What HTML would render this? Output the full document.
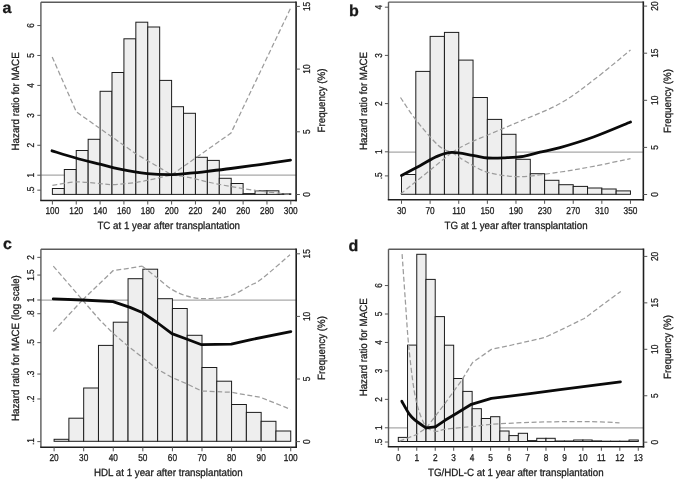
<!DOCTYPE html>
<html><head><meta charset="utf-8"><style>
html,body{margin:0;padding:0;background:#fff;}
body{width:675px;height:479px;overflow:hidden;}
svg{display:block;font-family:"Liberation Sans", sans-serif;text-rendering:geometricPrecision;will-change:transform;}
text{fill:#1a1a1a;stroke:#1a1a1a;stroke-width:0.28px;}
</style></head><body>
<svg width="675" height="479" viewBox="0 0 675 479">
<rect width="675" height="479" fill="#fff"/>
<line x1="40.9" y1="175.1" x2="296.1" y2="175.1" stroke="#a8a8a8" stroke-width="1.1"/>
<rect x="52.40" y="188.50" width="11.92" height="5.90" fill="#eeeeee" stroke="#1c1c1c" stroke-width="1"/>
<rect x="64.32" y="169.50" width="11.92" height="24.90" fill="#eeeeee" stroke="#1c1c1c" stroke-width="1"/>
<rect x="76.24" y="150.50" width="11.92" height="43.90" fill="#eeeeee" stroke="#1c1c1c" stroke-width="1"/>
<rect x="88.16" y="139.30" width="11.92" height="55.10" fill="#eeeeee" stroke="#1c1c1c" stroke-width="1"/>
<rect x="100.08" y="91.30" width="11.92" height="103.10" fill="#eeeeee" stroke="#1c1c1c" stroke-width="1"/>
<rect x="112.00" y="72.50" width="11.92" height="121.90" fill="#eeeeee" stroke="#1c1c1c" stroke-width="1"/>
<rect x="123.92" y="38.80" width="11.92" height="155.60" fill="#eeeeee" stroke="#1c1c1c" stroke-width="1"/>
<rect x="135.84" y="22.20" width="11.92" height="172.20" fill="#eeeeee" stroke="#1c1c1c" stroke-width="1"/>
<rect x="147.76" y="27.00" width="11.92" height="167.40" fill="#eeeeee" stroke="#1c1c1c" stroke-width="1"/>
<rect x="159.68" y="80.40" width="11.92" height="114.00" fill="#eeeeee" stroke="#1c1c1c" stroke-width="1"/>
<rect x="171.60" y="106.70" width="11.92" height="87.70" fill="#eeeeee" stroke="#1c1c1c" stroke-width="1"/>
<rect x="183.52" y="113.30" width="11.92" height="81.10" fill="#eeeeee" stroke="#1c1c1c" stroke-width="1"/>
<rect x="195.44" y="157.30" width="11.92" height="37.10" fill="#eeeeee" stroke="#1c1c1c" stroke-width="1"/>
<rect x="207.36" y="160.40" width="11.92" height="34.00" fill="#eeeeee" stroke="#1c1c1c" stroke-width="1"/>
<rect x="219.28" y="178.30" width="11.92" height="16.10" fill="#eeeeee" stroke="#1c1c1c" stroke-width="1"/>
<rect x="231.20" y="183.50" width="11.92" height="10.90" fill="#eeeeee" stroke="#1c1c1c" stroke-width="1"/>
<rect x="243.12" y="193.60" width="11.92" height="0.80" fill="#eeeeee" stroke="#1c1c1c" stroke-width="1"/>
<rect x="255.04" y="190.80" width="11.92" height="3.60" fill="#eeeeee" stroke="#1c1c1c" stroke-width="1"/>
<rect x="266.96" y="190.80" width="11.92" height="3.60" fill="#eeeeee" stroke="#1c1c1c" stroke-width="1"/>
<rect x="278.88" y="193.80" width="11.92" height="0.60" fill="#eeeeee" stroke="#1c1c1c" stroke-width="1"/>
<polyline points="52.20,56.90 76.30,111.80 137.00,154.50 171.70,174.80" fill="none" stroke="#9c9c9c" stroke-width="1.25" stroke-dasharray="5,2.6"/>
<polyline points="171.70,174.80 231.00,133.00 290.70,8.00" fill="none" stroke="#9c9c9c" stroke-width="1.25" stroke-dasharray="5,2.6"/>
<path d="M52.40,185.30 C56.30,184.75 67.87,182.28 75.80,182.00 C83.73,181.72 93.88,183.17 100.00,183.60 C106.12,184.03 106.33,184.82 112.50,184.60 C118.67,184.38 129.80,183.32 137.00,182.30 C144.20,181.28 149.92,179.72 155.70,178.50 C161.48,177.28 169.03,175.58 171.70,175.00" fill="none" stroke="#9c9c9c" stroke-width="1.25" stroke-dasharray="5,2.6"/>
<path d="M171.70,175.00 C174.75,175.43 183.62,176.35 190.00,177.60 C196.38,178.85 201.25,180.68 210.00,182.50 C218.75,184.32 231.13,186.72 242.50,188.50 C253.87,190.28 270.20,192.27 278.20,193.20 C286.20,194.13 288.45,193.95 290.50,194.10" fill="none" stroke="#9c9c9c" stroke-width="1.25" stroke-dasharray="5,2.6"/>
<path d="M52.00,150.80 C55.97,152.00 67.80,155.77 75.80,158.00 C83.80,160.23 92.63,162.33 100.00,164.20 C107.37,166.07 112.12,167.63 120.00,169.20 C127.88,170.77 138.68,172.68 147.30,173.60 C155.92,174.52 164.58,174.77 171.70,174.70 C178.82,174.63 183.62,173.82 190.00,173.20 C196.38,172.58 203.20,171.78 210.00,171.00 C216.80,170.22 222.47,169.57 230.80,168.50 C239.13,167.43 250.05,165.98 260.00,164.60 C269.95,163.22 285.42,160.93 290.50,160.20" fill="none" stroke="#0a0a0a" stroke-width="2.8" stroke-linejoin="round" stroke-linecap="round"/>
<line x1="40.9" y1="2.2" x2="296.1" y2="2.2" stroke="#5a5a5a" stroke-width="1.4"/>
<line x1="40.9" y1="2.2" x2="40.9" y2="200.5" stroke="#5a5a5a" stroke-width="1.4"/>
<line x1="296.1" y1="1.5000000000000002" x2="296.1" y2="201.2" stroke="#1e1e1e" stroke-width="1.6"/>
<line x1="40.199999999999996" y1="200.5" x2="296.8" y2="200.5" stroke="#1e1e1e" stroke-width="1.5"/>
<line x1="52.40" y1="200.5" x2="52.40" y2="204.5" stroke="#555" stroke-width="1"/>
<text transform="translate(52.40,213.5) scale(0.83,1)" font-size="10.0" text-anchor="middle" fill="#222">100</text>
<line x1="76.24" y1="200.5" x2="76.24" y2="204.5" stroke="#555" stroke-width="1"/>
<text transform="translate(76.24,213.5) scale(0.83,1)" font-size="10.0" text-anchor="middle" fill="#222">120</text>
<line x1="100.08" y1="200.5" x2="100.08" y2="204.5" stroke="#555" stroke-width="1"/>
<text transform="translate(100.08,213.5) scale(0.83,1)" font-size="10.0" text-anchor="middle" fill="#222">140</text>
<line x1="123.92" y1="200.5" x2="123.92" y2="204.5" stroke="#555" stroke-width="1"/>
<text transform="translate(123.92,213.5) scale(0.83,1)" font-size="10.0" text-anchor="middle" fill="#222">160</text>
<line x1="147.76" y1="200.5" x2="147.76" y2="204.5" stroke="#555" stroke-width="1"/>
<text transform="translate(147.76,213.5) scale(0.83,1)" font-size="10.0" text-anchor="middle" fill="#222">180</text>
<line x1="171.60" y1="200.5" x2="171.60" y2="204.5" stroke="#555" stroke-width="1"/>
<text transform="translate(171.60,213.5) scale(0.83,1)" font-size="10.0" text-anchor="middle" fill="#222">200</text>
<line x1="195.44" y1="200.5" x2="195.44" y2="204.5" stroke="#555" stroke-width="1"/>
<text transform="translate(195.44,213.5) scale(0.83,1)" font-size="10.0" text-anchor="middle" fill="#222">220</text>
<line x1="219.28" y1="200.5" x2="219.28" y2="204.5" stroke="#555" stroke-width="1"/>
<text transform="translate(219.28,213.5) scale(0.83,1)" font-size="10.0" text-anchor="middle" fill="#222">240</text>
<line x1="243.12" y1="200.5" x2="243.12" y2="204.5" stroke="#555" stroke-width="1"/>
<text transform="translate(243.12,213.5) scale(0.83,1)" font-size="10.0" text-anchor="middle" fill="#222">260</text>
<line x1="266.96" y1="200.5" x2="266.96" y2="204.5" stroke="#555" stroke-width="1"/>
<text transform="translate(266.96,213.5) scale(0.83,1)" font-size="10.0" text-anchor="middle" fill="#222">280</text>
<line x1="290.80" y1="200.5" x2="290.80" y2="204.5" stroke="#555" stroke-width="1"/>
<text transform="translate(290.80,213.5) scale(0.83,1)" font-size="10.0" text-anchor="middle" fill="#222">300</text>
<line x1="37.3" y1="190.16" x2="40.9" y2="190.16" stroke="#555" stroke-width="1"/>
<text transform="translate(33.6,190.16) rotate(-90) scale(0.83,1)" font-size="10.0" text-anchor="middle" fill="#222">.5</text>
<line x1="37.3" y1="175.20" x2="40.9" y2="175.20" stroke="#555" stroke-width="1"/>
<text transform="translate(33.6,175.20) rotate(-90) scale(0.83,1)" font-size="10.0" text-anchor="middle" fill="#222">1</text>
<line x1="37.3" y1="145.27" x2="40.9" y2="145.27" stroke="#555" stroke-width="1"/>
<text transform="translate(33.6,145.27) rotate(-90) scale(0.83,1)" font-size="10.0" text-anchor="middle" fill="#222">2</text>
<line x1="37.3" y1="115.34" x2="40.9" y2="115.34" stroke="#555" stroke-width="1"/>
<text transform="translate(33.6,115.34) rotate(-90) scale(0.83,1)" font-size="10.0" text-anchor="middle" fill="#222">3</text>
<line x1="37.3" y1="85.41" x2="40.9" y2="85.41" stroke="#555" stroke-width="1"/>
<text transform="translate(33.6,85.41) rotate(-90) scale(0.83,1)" font-size="10.0" text-anchor="middle" fill="#222">4</text>
<line x1="37.3" y1="55.48" x2="40.9" y2="55.48" stroke="#555" stroke-width="1"/>
<text transform="translate(33.6,55.48) rotate(-90) scale(0.83,1)" font-size="10.0" text-anchor="middle" fill="#222">5</text>
<line x1="37.3" y1="25.55" x2="40.9" y2="25.55" stroke="#555" stroke-width="1"/>
<text transform="translate(33.6,25.55) rotate(-90) scale(0.83,1)" font-size="10.0" text-anchor="middle" fill="#222">6</text>
<line x1="296.1" y1="194.50" x2="299.90000000000003" y2="194.50" stroke="#555" stroke-width="1"/>
<text transform="translate(310.0,194.50) rotate(-90) scale(0.83,1)" font-size="10.0" text-anchor="middle" fill="#222">0</text>
<line x1="296.1" y1="131.80" x2="299.90000000000003" y2="131.80" stroke="#555" stroke-width="1"/>
<text transform="translate(310.0,131.80) rotate(-90) scale(0.83,1)" font-size="10.0" text-anchor="middle" fill="#222">5</text>
<line x1="296.1" y1="69.10" x2="299.90000000000003" y2="69.10" stroke="#555" stroke-width="1"/>
<text transform="translate(310.0,69.10) rotate(-90) scale(0.83,1)" font-size="10.0" text-anchor="middle" fill="#222">10</text>
<line x1="296.1" y1="6.40" x2="299.90000000000003" y2="6.40" stroke="#555" stroke-width="1"/>
<text transform="translate(310.0,6.40) rotate(-90) scale(0.83,1)" font-size="10.0" text-anchor="middle" fill="#222">15</text>
<text transform="translate(168.7,228.8) scale(0.929,1)" font-size="10.5" text-anchor="middle" fill="#222">TC at 1 year after transplantation</text>
<text transform="translate(19.2,101.4) rotate(-90) scale(0.929,1)" font-size="10.5" text-anchor="middle" fill="#222">Hazard ratio for MACE</text>
<text transform="translate(325.2,100.5) rotate(-90) scale(0.929,1)" font-size="10.5" text-anchor="middle" fill="#222">Frequency (%)</text>
<text x="2.5" y="13.1" font-size="16" font-weight="bold" fill="#000">a</text>
<line x1="388.5" y1="152.1" x2="643.3" y2="152.1" stroke="#a8a8a8" stroke-width="1.1"/>
<rect x="401.50" y="174.50" width="14.31" height="19.80" fill="#eeeeee" stroke="#1c1c1c" stroke-width="1"/>
<rect x="415.81" y="71.40" width="14.31" height="122.90" fill="#eeeeee" stroke="#1c1c1c" stroke-width="1"/>
<rect x="430.12" y="36.40" width="14.31" height="157.90" fill="#eeeeee" stroke="#1c1c1c" stroke-width="1"/>
<rect x="444.43" y="32.40" width="14.31" height="161.90" fill="#eeeeee" stroke="#1c1c1c" stroke-width="1"/>
<rect x="458.74" y="60.10" width="14.31" height="134.20" fill="#eeeeee" stroke="#1c1c1c" stroke-width="1"/>
<rect x="473.05" y="97.50" width="14.31" height="96.80" fill="#eeeeee" stroke="#1c1c1c" stroke-width="1"/>
<rect x="487.36" y="119.40" width="14.31" height="74.90" fill="#eeeeee" stroke="#1c1c1c" stroke-width="1"/>
<rect x="501.67" y="134.30" width="14.31" height="60.00" fill="#eeeeee" stroke="#1c1c1c" stroke-width="1"/>
<rect x="515.98" y="159.30" width="14.31" height="35.00" fill="#eeeeee" stroke="#1c1c1c" stroke-width="1"/>
<rect x="530.29" y="173.70" width="14.31" height="20.60" fill="#eeeeee" stroke="#1c1c1c" stroke-width="1"/>
<rect x="544.60" y="180.30" width="14.31" height="14.00" fill="#eeeeee" stroke="#1c1c1c" stroke-width="1"/>
<rect x="558.91" y="184.70" width="14.31" height="9.60" fill="#eeeeee" stroke="#1c1c1c" stroke-width="1"/>
<rect x="573.22" y="186.40" width="14.31" height="7.90" fill="#eeeeee" stroke="#1c1c1c" stroke-width="1"/>
<rect x="587.53" y="188.00" width="14.31" height="6.30" fill="#eeeeee" stroke="#1c1c1c" stroke-width="1"/>
<rect x="601.84" y="189.00" width="14.31" height="5.30" fill="#eeeeee" stroke="#1c1c1c" stroke-width="1"/>
<rect x="616.15" y="190.90" width="14.31" height="3.40" fill="#eeeeee" stroke="#1c1c1c" stroke-width="1"/>
<path d="M400.50,97.50 C403.02,101.17 409.33,111.55 415.60,119.50 C421.87,127.45 432.05,139.72 438.10,145.20 C444.15,150.68 449.60,151.20 451.90,152.40" fill="none" stroke="#9c9c9c" stroke-width="1.25" stroke-dasharray="5,2.6"/>
<path d="M451.90,152.40 C454.58,154.12 461.85,159.33 468.00,162.70 C474.15,166.07 480.13,170.28 488.80,172.60 C497.47,174.92 508.12,176.70 520.00,176.60 C531.88,176.50 547.85,173.72 560.10,172.00 C572.35,170.28 581.77,168.53 593.50,166.30 C605.23,164.07 624.33,159.88 630.50,158.60" fill="none" stroke="#9c9c9c" stroke-width="1.25" stroke-dasharray="5,2.6"/>
<polyline points="400.50,194.00 426.00,173.50 451.90,152.40" fill="none" stroke="#9c9c9c" stroke-width="1.25" stroke-dasharray="5,2.6"/>
<path d="M451.90,152.40 C454.58,150.92 461.08,146.80 468.00,143.50 C474.92,140.20 484.73,136.30 493.40,132.60 C502.07,128.90 508.88,126.15 520.00,121.30 C531.12,116.45 547.85,110.37 560.10,103.50 C572.35,96.63 581.77,89.02 593.50,80.10 C605.23,71.18 624.33,55.02 630.50,50.00" fill="none" stroke="#9c9c9c" stroke-width="1.25" stroke-dasharray="5,2.6"/>
<path d="M401.50,175.50 C404.58,173.87 414.08,168.88 420.00,165.70 C425.92,162.52 431.68,158.62 437.00,156.40 C442.32,154.18 445.93,152.57 451.90,152.40 C457.87,152.23 466.83,154.47 472.80,155.40 C478.77,156.33 482.33,157.60 487.70,158.00 C493.07,158.40 499.05,158.07 505.00,157.80 C510.95,157.53 517.57,157.33 523.40,156.40 C529.23,155.47 533.90,153.67 540.00,152.20 C546.10,150.73 551.08,150.13 560.00,147.60 C568.92,145.07 581.75,141.27 593.50,137.00 C605.25,132.73 624.33,124.50 630.50,122.00" fill="none" stroke="#0a0a0a" stroke-width="2.8" stroke-linejoin="round" stroke-linecap="round"/>
<line x1="388.5" y1="2.1" x2="643.3" y2="2.1" stroke="#5a5a5a" stroke-width="1.4"/>
<line x1="388.5" y1="2.1" x2="388.5" y2="199.8" stroke="#5a5a5a" stroke-width="1.4"/>
<line x1="643.3" y1="1.4000000000000001" x2="643.3" y2="200.5" stroke="#1e1e1e" stroke-width="1.6"/>
<line x1="387.8" y1="199.8" x2="644.0" y2="199.8" stroke="#1e1e1e" stroke-width="1.5"/>
<line x1="401.50" y1="199.8" x2="401.50" y2="203.8" stroke="#555" stroke-width="1"/>
<text transform="translate(401.50,213.5) scale(0.83,1)" font-size="10.0" text-anchor="middle" fill="#222">30</text>
<line x1="430.12" y1="199.8" x2="430.12" y2="203.8" stroke="#555" stroke-width="1"/>
<text transform="translate(430.12,213.5) scale(0.83,1)" font-size="10.0" text-anchor="middle" fill="#222">70</text>
<line x1="458.74" y1="199.8" x2="458.74" y2="203.8" stroke="#555" stroke-width="1"/>
<text transform="translate(458.74,213.5) scale(0.83,1)" font-size="10.0" text-anchor="middle" fill="#222">110</text>
<line x1="487.36" y1="199.8" x2="487.36" y2="203.8" stroke="#555" stroke-width="1"/>
<text transform="translate(487.36,213.5) scale(0.83,1)" font-size="10.0" text-anchor="middle" fill="#222">150</text>
<line x1="515.98" y1="199.8" x2="515.98" y2="203.8" stroke="#555" stroke-width="1"/>
<text transform="translate(515.98,213.5) scale(0.83,1)" font-size="10.0" text-anchor="middle" fill="#222">190</text>
<line x1="544.60" y1="199.8" x2="544.60" y2="203.8" stroke="#555" stroke-width="1"/>
<text transform="translate(544.60,213.5) scale(0.83,1)" font-size="10.0" text-anchor="middle" fill="#222">230</text>
<line x1="573.22" y1="199.8" x2="573.22" y2="203.8" stroke="#555" stroke-width="1"/>
<text transform="translate(573.22,213.5) scale(0.83,1)" font-size="10.0" text-anchor="middle" fill="#222">270</text>
<line x1="601.84" y1="199.8" x2="601.84" y2="203.8" stroke="#555" stroke-width="1"/>
<text transform="translate(601.84,213.5) scale(0.83,1)" font-size="10.0" text-anchor="middle" fill="#222">310</text>
<line x1="630.46" y1="199.8" x2="630.46" y2="203.8" stroke="#555" stroke-width="1"/>
<text transform="translate(630.46,213.5) scale(0.83,1)" font-size="10.0" text-anchor="middle" fill="#222">350</text>
<line x1="384.9" y1="175.90" x2="388.5" y2="175.90" stroke="#555" stroke-width="1"/>
<text transform="translate(381.8,175.90) rotate(-90) scale(0.83,1)" font-size="10.0" text-anchor="middle" fill="#222">.5</text>
<line x1="384.9" y1="151.80" x2="388.5" y2="151.80" stroke="#555" stroke-width="1"/>
<text transform="translate(381.8,151.80) rotate(-90) scale(0.83,1)" font-size="10.0" text-anchor="middle" fill="#222">1</text>
<line x1="384.9" y1="103.60" x2="388.5" y2="103.60" stroke="#555" stroke-width="1"/>
<text transform="translate(381.8,103.60) rotate(-90) scale(0.83,1)" font-size="10.0" text-anchor="middle" fill="#222">2</text>
<line x1="384.9" y1="55.40" x2="388.5" y2="55.40" stroke="#555" stroke-width="1"/>
<text transform="translate(381.8,55.40) rotate(-90) scale(0.83,1)" font-size="10.0" text-anchor="middle" fill="#222">3</text>
<line x1="384.9" y1="7.20" x2="388.5" y2="7.20" stroke="#555" stroke-width="1"/>
<text transform="translate(381.8,7.20) rotate(-90) scale(0.83,1)" font-size="10.0" text-anchor="middle" fill="#222">4</text>
<line x1="643.3" y1="194.50" x2="647.0999999999999" y2="194.50" stroke="#555" stroke-width="1"/>
<text transform="translate(658.0,194.50) rotate(-90) scale(0.83,1)" font-size="10.0" text-anchor="middle" fill="#222">0</text>
<line x1="643.3" y1="147.40" x2="647.0999999999999" y2="147.40" stroke="#555" stroke-width="1"/>
<text transform="translate(658.0,147.40) rotate(-90) scale(0.83,1)" font-size="10.0" text-anchor="middle" fill="#222">5</text>
<line x1="643.3" y1="100.30" x2="647.0999999999999" y2="100.30" stroke="#555" stroke-width="1"/>
<text transform="translate(658.0,100.30) rotate(-90) scale(0.83,1)" font-size="10.0" text-anchor="middle" fill="#222">10</text>
<line x1="643.3" y1="53.20" x2="647.0999999999999" y2="53.20" stroke="#555" stroke-width="1"/>
<text transform="translate(658.0,53.20) rotate(-90) scale(0.83,1)" font-size="10.0" text-anchor="middle" fill="#222">15</text>
<line x1="643.3" y1="6.10" x2="647.0999999999999" y2="6.10" stroke="#555" stroke-width="1"/>
<text transform="translate(658.0,6.10) rotate(-90) scale(0.83,1)" font-size="10.0" text-anchor="middle" fill="#222">20</text>
<text transform="translate(516,228.8) scale(0.929,1)" font-size="10.5" text-anchor="middle" fill="#222">TG at 1 year after transplantation</text>
<text transform="translate(366.5,101) rotate(-90) scale(0.929,1)" font-size="10.5" text-anchor="middle" fill="#222">Hazard ratio for MACE</text>
<text transform="translate(670.7,101) rotate(-90) scale(0.929,1)" font-size="10.5" text-anchor="middle" fill="#222">Frequency (%)</text>
<text x="349" y="16.1" font-size="16" font-weight="bold" fill="#000">b</text>
<line x1="40.9" y1="300.1" x2="296.2" y2="300.1" stroke="#a8a8a8" stroke-width="1.1"/>
<rect x="54.10" y="439.30" width="14.79" height="2.00" fill="#eeeeee" stroke="#1c1c1c" stroke-width="1"/>
<rect x="68.89" y="418.20" width="14.79" height="23.10" fill="#eeeeee" stroke="#1c1c1c" stroke-width="1"/>
<rect x="83.68" y="388.00" width="14.79" height="53.30" fill="#eeeeee" stroke="#1c1c1c" stroke-width="1"/>
<rect x="98.47" y="345.40" width="14.79" height="95.90" fill="#eeeeee" stroke="#1c1c1c" stroke-width="1"/>
<rect x="113.26" y="322.20" width="14.79" height="119.10" fill="#eeeeee" stroke="#1c1c1c" stroke-width="1"/>
<rect x="128.05" y="278.70" width="14.79" height="162.60" fill="#eeeeee" stroke="#1c1c1c" stroke-width="1"/>
<rect x="142.84" y="269.20" width="14.79" height="172.10" fill="#eeeeee" stroke="#1c1c1c" stroke-width="1"/>
<rect x="157.63" y="298.70" width="14.79" height="142.60" fill="#eeeeee" stroke="#1c1c1c" stroke-width="1"/>
<rect x="172.42" y="308.50" width="14.79" height="132.80" fill="#eeeeee" stroke="#1c1c1c" stroke-width="1"/>
<rect x="187.21" y="335.30" width="14.79" height="106.00" fill="#eeeeee" stroke="#1c1c1c" stroke-width="1"/>
<rect x="202.00" y="367.50" width="14.79" height="73.80" fill="#eeeeee" stroke="#1c1c1c" stroke-width="1"/>
<rect x="216.79" y="381.20" width="14.79" height="60.10" fill="#eeeeee" stroke="#1c1c1c" stroke-width="1"/>
<rect x="231.58" y="404.50" width="14.79" height="36.80" fill="#eeeeee" stroke="#1c1c1c" stroke-width="1"/>
<rect x="246.37" y="412.40" width="14.79" height="28.90" fill="#eeeeee" stroke="#1c1c1c" stroke-width="1"/>
<rect x="261.16" y="421.30" width="14.79" height="20.00" fill="#eeeeee" stroke="#1c1c1c" stroke-width="1"/>
<rect x="275.95" y="431.00" width="14.79" height="10.30" fill="#eeeeee" stroke="#1c1c1c" stroke-width="1"/>
<polyline points="53.30,331.50 82.50,300.00" fill="none" stroke="#9c9c9c" stroke-width="1.25" stroke-dasharray="5,2.6"/>
<polyline points="82.50,300.00 113.00,270.70 142.30,266.20" fill="none" stroke="#9c9c9c" stroke-width="1.25" stroke-dasharray="5,2.6"/>
<path d="M142.30,266.20 C144.77,268.13 152.18,273.93 157.10,277.80 C162.02,281.67 166.92,286.38 171.80,289.40 C176.68,292.42 181.37,294.37 186.40,295.90 C191.43,297.43 196.73,298.25 202.00,298.60 C207.27,298.95 212.95,298.60 218.00,298.00 C223.05,297.40 226.97,297.07 232.30,295.00 C237.63,292.93 245.08,288.30 250.00,285.60 C254.92,282.90 255.13,283.93 261.80,278.80 C268.47,273.67 285.30,258.80 290.00,254.80" fill="none" stroke="#9c9c9c" stroke-width="1.25" stroke-dasharray="5,2.6"/>
<polyline points="53.30,266.10 82.50,300.00" fill="none" stroke="#9c9c9c" stroke-width="1.25" stroke-dasharray="5,2.6"/>
<polyline points="82.50,300.00 99.80,320.00 113.40,333.60 128.00,346.10 142.60,357.60 157.20,369.00 171.90,377.40 186.50,383.70 201.60,391.00 231.30,392.30 260.50,397.30 290.50,409.30" fill="none" stroke="#9c9c9c" stroke-width="1.25" stroke-dasharray="5,2.6"/>
<polyline points="53.30,298.90 82.50,300.00 113.00,301.60 130.00,307.40 142.30,312.50 157.10,322.50 171.90,333.60 186.50,339.00 201.60,344.70 231.30,344.20 250.00,339.80 290.80,331.60" fill="none" stroke="#0a0a0a" stroke-width="2.8" stroke-linejoin="round" stroke-linecap="round"/>
<line x1="40.9" y1="249.2" x2="296.2" y2="249.2" stroke="#5a5a5a" stroke-width="1.4"/>
<line x1="40.9" y1="249.2" x2="40.9" y2="447.3" stroke="#5a5a5a" stroke-width="1.4"/>
<line x1="296.2" y1="248.5" x2="296.2" y2="448.0" stroke="#1e1e1e" stroke-width="1.6"/>
<line x1="40.199999999999996" y1="447.3" x2="296.9" y2="447.3" stroke="#1e1e1e" stroke-width="1.5"/>
<line x1="54.10" y1="447.3" x2="54.10" y2="451.3" stroke="#555" stroke-width="1"/>
<text transform="translate(54.10,461.4) scale(0.83,1)" font-size="10.0" text-anchor="middle" fill="#222">20</text>
<line x1="83.68" y1="447.3" x2="83.68" y2="451.3" stroke="#555" stroke-width="1"/>
<text transform="translate(83.68,461.4) scale(0.83,1)" font-size="10.0" text-anchor="middle" fill="#222">30</text>
<line x1="113.26" y1="447.3" x2="113.26" y2="451.3" stroke="#555" stroke-width="1"/>
<text transform="translate(113.26,461.4) scale(0.83,1)" font-size="10.0" text-anchor="middle" fill="#222">40</text>
<line x1="142.84" y1="447.3" x2="142.84" y2="451.3" stroke="#555" stroke-width="1"/>
<text transform="translate(142.84,461.4) scale(0.83,1)" font-size="10.0" text-anchor="middle" fill="#222">50</text>
<line x1="172.42" y1="447.3" x2="172.42" y2="451.3" stroke="#555" stroke-width="1"/>
<text transform="translate(172.42,461.4) scale(0.83,1)" font-size="10.0" text-anchor="middle" fill="#222">60</text>
<line x1="202.00" y1="447.3" x2="202.00" y2="451.3" stroke="#555" stroke-width="1"/>
<text transform="translate(202.00,461.4) scale(0.83,1)" font-size="10.0" text-anchor="middle" fill="#222">70</text>
<line x1="231.58" y1="447.3" x2="231.58" y2="451.3" stroke="#555" stroke-width="1"/>
<text transform="translate(231.58,461.4) scale(0.83,1)" font-size="10.0" text-anchor="middle" fill="#222">80</text>
<line x1="261.16" y1="447.3" x2="261.16" y2="451.3" stroke="#555" stroke-width="1"/>
<text transform="translate(261.16,461.4) scale(0.83,1)" font-size="10.0" text-anchor="middle" fill="#222">90</text>
<line x1="290.74" y1="447.3" x2="290.74" y2="451.3" stroke="#555" stroke-width="1"/>
<text transform="translate(290.74,461.4) scale(0.83,1)" font-size="10.0" text-anchor="middle" fill="#222">100</text>
<line x1="37.3" y1="257.37" x2="40.9" y2="257.37" stroke="#555" stroke-width="1"/>
<text transform="translate(33.9,257.37) rotate(-90) scale(0.83,1)" font-size="10.0" text-anchor="middle" fill="#222">2</text>
<line x1="37.3" y1="275.06" x2="40.9" y2="275.06" stroke="#555" stroke-width="1"/>
<text transform="translate(33.9,275.06) rotate(-90) scale(0.83,1)" font-size="10.0" text-anchor="middle" fill="#222">1.5</text>
<line x1="37.3" y1="300.00" x2="40.9" y2="300.00" stroke="#555" stroke-width="1"/>
<text transform="translate(33.9,300.00) rotate(-90) scale(0.83,1)" font-size="10.0" text-anchor="middle" fill="#222">1</text>
<line x1="37.3" y1="313.72" x2="40.9" y2="313.72" stroke="#555" stroke-width="1"/>
<text transform="translate(33.9,313.72) rotate(-90) scale(0.83,1)" font-size="10.0" text-anchor="middle" fill="#222">.8</text>
<line x1="37.3" y1="342.63" x2="40.9" y2="342.63" stroke="#555" stroke-width="1"/>
<text transform="translate(33.9,342.63) rotate(-90) scale(0.83,1)" font-size="10.0" text-anchor="middle" fill="#222">.5</text>
<line x1="37.3" y1="374.04" x2="40.9" y2="374.04" stroke="#555" stroke-width="1"/>
<text transform="translate(33.9,374.04) rotate(-90) scale(0.83,1)" font-size="10.0" text-anchor="middle" fill="#222">.3</text>
<line x1="37.3" y1="398.98" x2="40.9" y2="398.98" stroke="#555" stroke-width="1"/>
<text transform="translate(33.9,398.98) rotate(-90) scale(0.83,1)" font-size="10.0" text-anchor="middle" fill="#222">.2</text>
<line x1="37.3" y1="441.61" x2="40.9" y2="441.61" stroke="#555" stroke-width="1"/>
<text transform="translate(33.9,441.61) rotate(-90) scale(0.83,1)" font-size="10.0" text-anchor="middle" fill="#222">.1</text>
<line x1="296.2" y1="441.60" x2="300.0" y2="441.60" stroke="#555" stroke-width="1"/>
<text transform="translate(310.0,441.60) rotate(-90) scale(0.83,1)" font-size="10.0" text-anchor="middle" fill="#222">0</text>
<line x1="296.2" y1="379.00" x2="300.0" y2="379.00" stroke="#555" stroke-width="1"/>
<text transform="translate(310.0,379.00) rotate(-90) scale(0.83,1)" font-size="10.0" text-anchor="middle" fill="#222">5</text>
<line x1="296.2" y1="316.40" x2="300.0" y2="316.40" stroke="#555" stroke-width="1"/>
<text transform="translate(310.0,316.40) rotate(-90) scale(0.83,1)" font-size="10.0" text-anchor="middle" fill="#222">10</text>
<line x1="296.2" y1="253.80" x2="300.0" y2="253.80" stroke="#555" stroke-width="1"/>
<text transform="translate(310.0,253.80) rotate(-90) scale(0.83,1)" font-size="10.0" text-anchor="middle" fill="#222">15</text>
<text transform="translate(168.3,476.1) scale(0.929,1)" font-size="10.5" text-anchor="middle" fill="#222">HDL at 1 year after transplantation</text>
<text transform="translate(18.8,348.1) rotate(-90) scale(0.929,1)" font-size="10.5" text-anchor="middle" fill="#222">Hazard ratio for MACE (log scale)</text>
<text transform="translate(325.2,348) rotate(-90) scale(0.929,1)" font-size="10.5" text-anchor="middle" fill="#222">Frequency (%)</text>
<text x="3" y="248.5" font-size="16" font-weight="bold" fill="#000">c</text>
<line x1="388.5" y1="427.9" x2="643.5" y2="427.9" stroke="#a8a8a8" stroke-width="1.1"/>
<rect x="398.30" y="437.40" width="9.23" height="4.10" fill="#eeeeee" stroke="#1c1c1c" stroke-width="1"/>
<rect x="407.53" y="345.10" width="9.23" height="96.40" fill="#eeeeee" stroke="#1c1c1c" stroke-width="1"/>
<rect x="416.76" y="254.30" width="9.23" height="187.20" fill="#eeeeee" stroke="#1c1c1c" stroke-width="1"/>
<rect x="425.99" y="279.40" width="9.23" height="162.10" fill="#eeeeee" stroke="#1c1c1c" stroke-width="1"/>
<rect x="435.22" y="316.60" width="9.23" height="124.90" fill="#eeeeee" stroke="#1c1c1c" stroke-width="1"/>
<rect x="444.45" y="345.20" width="9.23" height="96.30" fill="#eeeeee" stroke="#1c1c1c" stroke-width="1"/>
<rect x="453.68" y="378.50" width="9.23" height="63.00" fill="#eeeeee" stroke="#1c1c1c" stroke-width="1"/>
<rect x="462.91" y="391.40" width="9.23" height="50.10" fill="#eeeeee" stroke="#1c1c1c" stroke-width="1"/>
<rect x="472.14" y="408.70" width="9.23" height="32.80" fill="#eeeeee" stroke="#1c1c1c" stroke-width="1"/>
<rect x="481.37" y="418.50" width="9.23" height="23.00" fill="#eeeeee" stroke="#1c1c1c" stroke-width="1"/>
<rect x="490.60" y="416.70" width="9.23" height="24.80" fill="#eeeeee" stroke="#1c1c1c" stroke-width="1"/>
<rect x="499.83" y="431.00" width="9.23" height="10.50" fill="#eeeeee" stroke="#1c1c1c" stroke-width="1"/>
<rect x="509.06" y="435.60" width="9.23" height="5.90" fill="#eeeeee" stroke="#1c1c1c" stroke-width="1"/>
<rect x="518.29" y="433.30" width="9.23" height="8.20" fill="#eeeeee" stroke="#1c1c1c" stroke-width="1"/>
<rect x="527.52" y="440.60" width="9.23" height="0.90" fill="#eeeeee" stroke="#1c1c1c" stroke-width="1"/>
<rect x="536.75" y="438.30" width="9.23" height="3.20" fill="#eeeeee" stroke="#1c1c1c" stroke-width="1"/>
<rect x="545.98" y="438.30" width="9.23" height="3.20" fill="#eeeeee" stroke="#1c1c1c" stroke-width="1"/>
<rect x="555.21" y="441.00" width="9.23" height="0.50" fill="#eeeeee" stroke="#1c1c1c" stroke-width="1"/>
<rect x="564.44" y="441.00" width="9.23" height="0.50" fill="#eeeeee" stroke="#1c1c1c" stroke-width="1"/>
<rect x="573.67" y="440.00" width="9.23" height="1.50" fill="#eeeeee" stroke="#1c1c1c" stroke-width="1"/>
<rect x="582.90" y="440.00" width="9.23" height="1.50" fill="#eeeeee" stroke="#1c1c1c" stroke-width="1"/>
<rect x="592.13" y="440.90" width="9.23" height="0.60" fill="#eeeeee" stroke="#1c1c1c" stroke-width="1"/>
<rect x="601.36" y="441.20" width="9.23" height="0.30" fill="#eeeeee" stroke="#1c1c1c" stroke-width="1"/>
<rect x="610.59" y="441.20" width="9.23" height="0.30" fill="#eeeeee" stroke="#1c1c1c" stroke-width="1"/>
<rect x="619.82" y="441.20" width="9.23" height="0.30" fill="#eeeeee" stroke="#1c1c1c" stroke-width="1"/>
<rect x="629.05" y="440.00" width="9.23" height="1.50" fill="#eeeeee" stroke="#1c1c1c" stroke-width="1"/>
<path d="M402.10,254.10 C402.63,261.75 404.22,284.88 405.30,300.00 C406.38,315.12 407.15,329.87 408.60,344.80 C410.05,359.73 412.17,378.23 414.00,389.60 C415.83,400.97 417.55,406.60 419.60,413.00 C421.65,419.40 425.18,425.50 426.30,428.00" fill="none" stroke="#9c9c9c" stroke-width="1.25" stroke-dasharray="5,2.6"/>
<path d="M426.30,428.00 C427.90,428.57 432.57,431.23 435.90,431.40 C439.23,431.57 439.78,429.85 446.30,429.00 C452.82,428.15 467.48,427.08 475.00,426.30 C482.52,425.52 482.23,424.95 491.40,424.30 C500.57,423.65 518.57,422.83 530.00,422.40 C541.43,421.97 550.00,421.83 560.00,421.70 C570.00,421.57 580.08,421.42 590.00,421.60 C599.92,421.78 614.58,422.60 619.50,422.80" fill="none" stroke="#9c9c9c" stroke-width="1.25" stroke-dasharray="5,2.6"/>
<polyline points="399.50,441.20 416.50,434.70 426.30,428.00" fill="none" stroke="#9c9c9c" stroke-width="1.25" stroke-dasharray="5,2.6"/>
<polyline points="426.30,428.00 442.00,407.50 461.20,381.00 472.50,362.60 491.30,349.40 512.00,345.00 544.40,337.60 560.00,330.30 584.20,318.50 620.80,291.40" fill="none" stroke="#9c9c9c" stroke-width="1.25" stroke-dasharray="5,2.6"/>
<path d="M401.80,401.30 C403.02,403.40 406.90,410.77 409.10,413.90 C411.30,417.03 412.18,417.77 415.00,420.10 C417.82,422.43 424.17,426.60 426.00,427.90" fill="none" stroke="#0a0a0a" stroke-width="2.8" stroke-linejoin="round" stroke-linecap="round"/>
<polyline points="426.00,427.90 435.40,426.80" fill="none" stroke="#0a0a0a" stroke-width="2.8" stroke-linejoin="round" stroke-linecap="round"/>
<polyline points="435.40,426.80 445.00,420.30 455.10,414.20 471.40,404.30 491.40,398.40 530.00,393.60 560.00,389.60 620.40,381.80" fill="none" stroke="#0a0a0a" stroke-width="2.8" stroke-linejoin="round" stroke-linecap="round"/>
<line x1="388.5" y1="249.2" x2="643.5" y2="249.2" stroke="#5a5a5a" stroke-width="1.4"/>
<line x1="388.5" y1="249.2" x2="388.5" y2="446.8" stroke="#5a5a5a" stroke-width="1.4"/>
<line x1="643.5" y1="248.5" x2="643.5" y2="447.5" stroke="#1e1e1e" stroke-width="1.6"/>
<line x1="387.8" y1="446.8" x2="644.2" y2="446.8" stroke="#1e1e1e" stroke-width="1.5"/>
<line x1="398.30" y1="446.8" x2="398.30" y2="450.8" stroke="#555" stroke-width="1"/>
<text transform="translate(398.30,461.4) scale(0.83,1)" font-size="10.0" text-anchor="middle" fill="#222">0</text>
<line x1="416.76" y1="446.8" x2="416.76" y2="450.8" stroke="#555" stroke-width="1"/>
<text transform="translate(416.76,461.4) scale(0.83,1)" font-size="10.0" text-anchor="middle" fill="#222">1</text>
<line x1="435.22" y1="446.8" x2="435.22" y2="450.8" stroke="#555" stroke-width="1"/>
<text transform="translate(435.22,461.4) scale(0.83,1)" font-size="10.0" text-anchor="middle" fill="#222">2</text>
<line x1="453.68" y1="446.8" x2="453.68" y2="450.8" stroke="#555" stroke-width="1"/>
<text transform="translate(453.68,461.4) scale(0.83,1)" font-size="10.0" text-anchor="middle" fill="#222">3</text>
<line x1="472.14" y1="446.8" x2="472.14" y2="450.8" stroke="#555" stroke-width="1"/>
<text transform="translate(472.14,461.4) scale(0.83,1)" font-size="10.0" text-anchor="middle" fill="#222">4</text>
<line x1="490.60" y1="446.8" x2="490.60" y2="450.8" stroke="#555" stroke-width="1"/>
<text transform="translate(490.60,461.4) scale(0.83,1)" font-size="10.0" text-anchor="middle" fill="#222">5</text>
<line x1="509.06" y1="446.8" x2="509.06" y2="450.8" stroke="#555" stroke-width="1"/>
<text transform="translate(509.06,461.4) scale(0.83,1)" font-size="10.0" text-anchor="middle" fill="#222">6</text>
<line x1="527.52" y1="446.8" x2="527.52" y2="450.8" stroke="#555" stroke-width="1"/>
<text transform="translate(527.52,461.4) scale(0.83,1)" font-size="10.0" text-anchor="middle" fill="#222">7</text>
<line x1="545.98" y1="446.8" x2="545.98" y2="450.8" stroke="#555" stroke-width="1"/>
<text transform="translate(545.98,461.4) scale(0.83,1)" font-size="10.0" text-anchor="middle" fill="#222">8</text>
<line x1="564.44" y1="446.8" x2="564.44" y2="450.8" stroke="#555" stroke-width="1"/>
<text transform="translate(564.44,461.4) scale(0.83,1)" font-size="10.0" text-anchor="middle" fill="#222">9</text>
<line x1="582.90" y1="446.8" x2="582.90" y2="450.8" stroke="#555" stroke-width="1"/>
<text transform="translate(582.90,461.4) scale(0.83,1)" font-size="10.0" text-anchor="middle" fill="#222">10</text>
<line x1="601.36" y1="446.8" x2="601.36" y2="450.8" stroke="#555" stroke-width="1"/>
<text transform="translate(601.36,461.4) scale(0.83,1)" font-size="10.0" text-anchor="middle" fill="#222">11</text>
<line x1="619.82" y1="446.8" x2="619.82" y2="450.8" stroke="#555" stroke-width="1"/>
<text transform="translate(619.82,461.4) scale(0.83,1)" font-size="10.0" text-anchor="middle" fill="#222">12</text>
<line x1="638.28" y1="446.8" x2="638.28" y2="450.8" stroke="#555" stroke-width="1"/>
<text transform="translate(638.28,461.4) scale(0.83,1)" font-size="10.0" text-anchor="middle" fill="#222">13</text>
<line x1="384.9" y1="442.03" x2="388.5" y2="442.03" stroke="#555" stroke-width="1"/>
<text transform="translate(382.0,442.03) rotate(-90) scale(0.83,1)" font-size="10.0" text-anchor="middle" fill="#222">.5</text>
<line x1="384.9" y1="427.80" x2="388.5" y2="427.80" stroke="#555" stroke-width="1"/>
<text transform="translate(382.0,427.80) rotate(-90) scale(0.83,1)" font-size="10.0" text-anchor="middle" fill="#222">1</text>
<line x1="384.9" y1="399.35" x2="388.5" y2="399.35" stroke="#555" stroke-width="1"/>
<text transform="translate(382.0,399.35) rotate(-90) scale(0.83,1)" font-size="10.0" text-anchor="middle" fill="#222">2</text>
<line x1="384.9" y1="370.90" x2="388.5" y2="370.90" stroke="#555" stroke-width="1"/>
<text transform="translate(382.0,370.90) rotate(-90) scale(0.83,1)" font-size="10.0" text-anchor="middle" fill="#222">3</text>
<line x1="384.9" y1="342.45" x2="388.5" y2="342.45" stroke="#555" stroke-width="1"/>
<text transform="translate(382.0,342.45) rotate(-90) scale(0.83,1)" font-size="10.0" text-anchor="middle" fill="#222">4</text>
<line x1="384.9" y1="314.00" x2="388.5" y2="314.00" stroke="#555" stroke-width="1"/>
<text transform="translate(382.0,314.00) rotate(-90) scale(0.83,1)" font-size="10.0" text-anchor="middle" fill="#222">5</text>
<line x1="384.9" y1="285.55" x2="388.5" y2="285.55" stroke="#555" stroke-width="1"/>
<text transform="translate(382.0,285.55) rotate(-90) scale(0.83,1)" font-size="10.0" text-anchor="middle" fill="#222">6</text>
<line x1="643.5" y1="442.20" x2="647.3" y2="442.20" stroke="#555" stroke-width="1"/>
<text transform="translate(658.0,442.20) rotate(-90) scale(0.83,1)" font-size="10.0" text-anchor="middle" fill="#222">0</text>
<line x1="643.5" y1="395.75" x2="647.3" y2="395.75" stroke="#555" stroke-width="1"/>
<text transform="translate(658.0,395.75) rotate(-90) scale(0.83,1)" font-size="10.0" text-anchor="middle" fill="#222">5</text>
<line x1="643.5" y1="349.30" x2="647.3" y2="349.30" stroke="#555" stroke-width="1"/>
<text transform="translate(658.0,349.30) rotate(-90) scale(0.83,1)" font-size="10.0" text-anchor="middle" fill="#222">10</text>
<line x1="643.5" y1="302.85" x2="647.3" y2="302.85" stroke="#555" stroke-width="1"/>
<text transform="translate(658.0,302.85) rotate(-90) scale(0.83,1)" font-size="10.0" text-anchor="middle" fill="#222">15</text>
<line x1="643.5" y1="256.40" x2="647.3" y2="256.40" stroke="#555" stroke-width="1"/>
<text transform="translate(658.0,256.40) rotate(-90) scale(0.83,1)" font-size="10.0" text-anchor="middle" fill="#222">20</text>
<text transform="translate(515.8,476.1) scale(0.929,1)" font-size="10.5" text-anchor="middle" fill="#222">TG/HDL-C at 1 year after transplantation</text>
<text transform="translate(366.8,347.3) rotate(-90) scale(0.929,1)" font-size="10.5" text-anchor="middle" fill="#222">Hazard ratio for MACE</text>
<text transform="translate(670.7,347) rotate(-90) scale(0.929,1)" font-size="10.5" text-anchor="middle" fill="#222">Frequency (%)</text>
<text x="348.5" y="251.1" font-size="16" font-weight="bold" fill="#000">d</text>
</svg>
</body></html>
